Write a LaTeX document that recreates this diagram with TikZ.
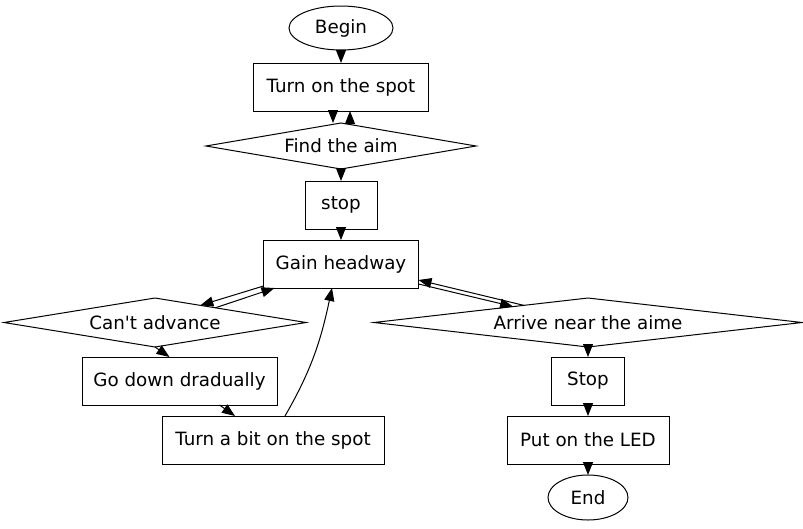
\documentclass[tikz,border=0pt]{standalone}
\usepackage{fontspec}
\setmainfont{DejaVu Sans}
\usetikzlibrary{positioning,shapes.geometric,arrows.meta,calc}

\begin{document}
\begin{tikzpicture}[x=1pt, y=1pt, font=\fontsize{18.3}{22}\selectfont,
  box/.style={draw, line width=1pt, inner sep=0pt, outer sep=0pt},
  term/.style={box, ellipse, minimum width=104pt, minimum height=44pt},
  proc/.style={box, rectangle, minimum height=48pt},
  test/.style={box, diamond, aspect=7, minimum height=49pt},
  flow/.style={-{Triangle[length=13pt,width=10pt]}, line width=1pt}]
  \useasboundingbox (0,0) rectangle (803,-528);
  \node [term] (Begin) at (341,-28) {Begin};
  \node [proc, minimum width=175pt, below=13pt of Begin] (Turn) {Turn on the spot};
  \node [test, minimum width=270pt, minimum height=46pt, below=12pt of Turn] (Find) {Find the aim};
  \node [proc, minimum width=72pt, below=12pt of Find] (Stop) {stop};
  \node [proc, minimum width=155pt, below=11pt of Stop] (Gain) {Gain headway};
  \node [test, minimum width=302pt, below=10pt of Gain, xshift=-186pt] (Cant) {Can\textquotesingle t advance};
  \node [proc, minimum width=195pt, below=10pt of Cant, xshift=24.5pt] (Down) {Go down dradually};
  \node [proc, minimum width=222pt, below=11pt of Down, xshift=93.5pt] (Bit) {Turn a bit on the spot};
  \node [test, minimum width=428pt, below=10pt of Gain, xshift=247pt] (Near) {Arrive near the aime};
  \node [proc, minimum width=73pt, below=10pt of Near] (StopR) {Stop};
  \node [proc, minimum width=162pt, below=11pt of StopR] (LED) {Put on the LED};
  \node [term, minimum width=80pt, minimum height=45pt, below=11pt of LED] (End) {End};
  \draw [flow] (Begin) -- (Turn);
  \draw [flow] ([xshift=-8pt]Turn.south) -- ([xshift=-8pt]Find.north);
  \draw [flow] ([xshift=9pt]Find.north) -- ([xshift=9pt]Turn.south);
  \draw [flow] (Find) -- (Stop);
  \draw [flow] (Stop) -- (Gain);
  \draw [flow] ([yshift=2pt]Gain.south west) -- ($(Cant.north)!0.3!(Cant.east)$);
  \draw [flow] ($(Cant.north)!0.4!(Cant.east)$) -- ([xshift=11pt]Gain.south west);
  \draw [flow] ([yshift=4pt]Gain.south east) -- ($(Near.north)!0.35!(Near.west)$);
  \draw [flow] ($(Near.north)!0.3!(Near.west)$) -- ([yshift=8pt]Gain.south east);
  \draw [flow] (Cant.south) -- ([xshift=-10pt]Down.north);
  \draw [flow] ([xshift=40pt]Down.south) -- ([xshift=-38pt]Bit.north);
  \draw [flow] ([xshift=12pt]Bit.north) to [out=60, in=-102] ([xshift=-9pt]Gain.south);
  \draw [flow] (Near) -- (StopR);
  \draw [flow] (StopR) -- (LED);
  \draw [flow] (LED) -- (End);
\end{tikzpicture}
\end{document}
